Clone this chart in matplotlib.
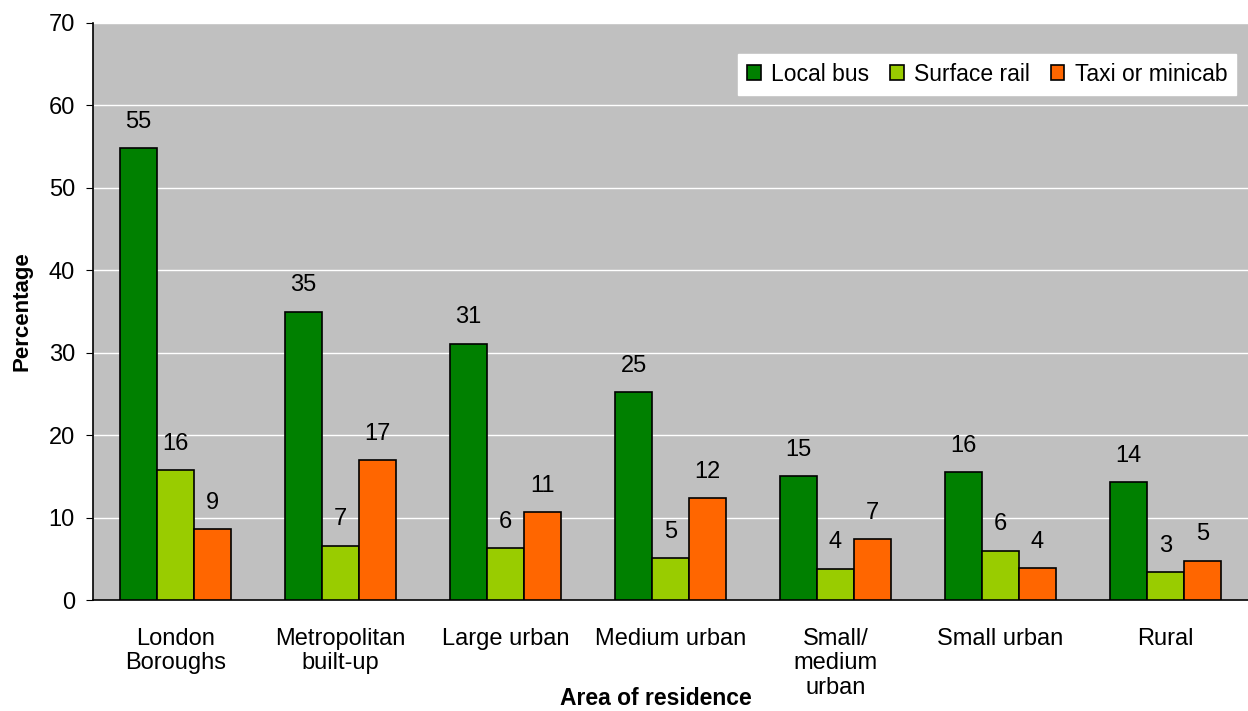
import matplotlib.pyplot as plt
import numpy as np

plt.rcParams['font.family'] = ['Liberation Sans', 'DejaVu Sans']

areas = ["London\nBoroughs", "Metropolitan\nbuilt-up", "Large urban", "Medium urban",
         "Small/\nmedium\nurban", "Small urban", "Rural"]
local_bus = [54.8, 35.0, 31.1, 25.2, 15.0, 15.5, 14.3]
surface_rail = [15.8, 6.6, 6.3, 5.1, 3.8, 6.0, 3.4]
taxi = [8.6, 17.0, 10.7, 12.4, 7.4, 3.9, 4.8]

series = [("Local bus", local_bus, "#008000"),
          ("Surface rail", surface_rail, "#99CC00"),
          ("Taxi or minicab", taxi, "#FF6600")]

fig = plt.figure(figsize=(12.48, 7.11), dpi=100)
ax = fig.add_axes([0.0745, 0.156, 0.9255, 0.8117])
ax.set_facecolor("#C0C0C0")

x = np.arange(len(areas))
w = 0.224
for i, (name, vals, col) in enumerate(series):
    bars = ax.bar(x + (i - 1) * w, vals, w, color=col, edgecolor="black",
                  linewidth=1.2, label=name, zorder=3)
    ax.bar_label(bars, fmt="%.0f", padding=11, fontsize=17)

ax.set_xlim(-0.5, len(areas) - 0.5)
ax.set_ylim(0, 70)
ax.set_yticks(range(0, 71, 10))
ax.grid(axis="y", color="white", linewidth=1, zorder=0)
ax.set_axisbelow(True)

for s in ["top", "right"]:
    ax.spines[s].set_visible(False)
ax.spines["left"].set_linewidth(1.2)
ax.spines["bottom"].set_linewidth(1.2)

ax.set_xticks(x)
ax.set_xticklabels(areas, fontsize=17, va="top", linespacing=1.15)
ax.tick_params(axis="x", length=0, pad=20)
ax.tick_params(axis="y", labelsize=17, length=5, direction="out", pad=8)

ax.set_ylabel("Percentage", fontsize=16, fontweight="bold")
ax.set_xlabel("Area of residence", fontsize=16.5, fontweight="bold")
ax.xaxis.set_label_coords(0.487, -0.150)
ax.yaxis.set_label_coords(-0.052, 0.5)

leg = ax.legend(loc="upper right", ncol=3, fontsize=16.5, frameon=True,
                fancybox=False, edgecolor="white", framealpha=1,
                bbox_to_anchor=(0.99, 0.947), handlelength=0.6, handleheight=0.6,
                handletextpad=0.45, columnspacing=0.9, borderpad=0.4,
                borderaxespad=0)

fig.savefig("out.png", dpi=100)
